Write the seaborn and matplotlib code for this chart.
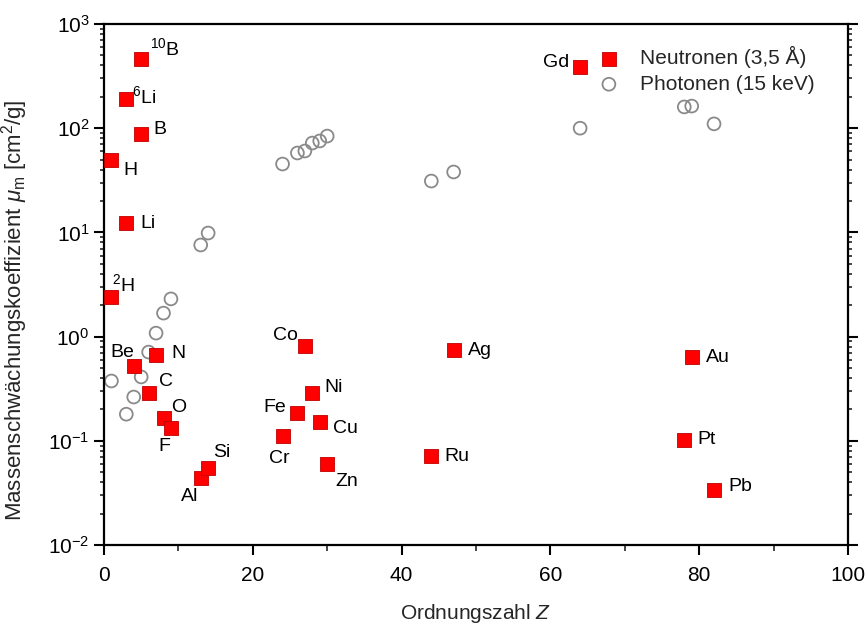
import numpy as np
import pandas as pd
import seaborn as sns
import matplotlib.pyplot as plt
import matplotlib.ticker as ticker

# Neutronen (3,5 Å)
n_label = ["$^{10}$B", "$^{6}$Li", "B", "H", "Li", "$^{2}$H", "Be", "N", "C", "O", "F",
           "Al", "Si", "Cr", "Fe", "Co", "Ni", "Cu", "Zn", "Ru", "Ag", "Gd", "Pt", "Au", "Pb"]
n_z = [5, 3, 5, 1, 3, 1, 4, 7, 6, 8, 9, 13, 14, 24, 26, 27, 28, 29, 30, 44, 47, 64, 78, 79, 82]
n_mu = [461, 190, 88, 50, 12.3, 2.4, 0.52, 0.665, 0.288, 0.166, 0.133, 0.044, 0.055,
        0.111, 0.185, 0.81, 0.288, 0.151, 0.060, 0.071, 0.74, 386, 0.102, 0.637, 0.034]

# Photonen (15 keV)
p_z = [1, 3, 4, 5, 6, 7, 8, 9, 13, 14, 24, 26, 27, 28, 29, 30, 44, 47, 64, 78, 79, 82]
p_mu = [0.375, 0.18, 0.263, 0.41, 0.71, 1.08, 1.68, 2.3, 7.57, 9.86, 45.3, 57.8, 60.4,
        72, 75.4, 84, 31.1, 38, 100, 160, 163, 110]

# label offsets in pixels and alignment
lab_off = {
    "$^{10}$B": (9, 11, "left"), "$^{6}$Li": (6, 3, "left"), "B": (12, 4, "left"),
    "H": (12, -11, "left"), "Li": (14, 0, "left"), "$^{2}$H": (1, 13, "left"),
    "Be": (1, 14, "right"), "N": (15, 2, "left"), "C": (10, 11, "left"),
    "O": (8, 10, "left"), "F": (-13, -19, "left"), "Al": (-2, -19, "right"),
    "Si": (5, 15, "left"), "Cr": (-3, -22, "center"), "Fe": (-11, 5, "right"),
    "Co": (-7, 11, "right"), "Ni": (12, 5, "left"), "Cu": (13, -6, "left"),
    "Zn": (8, -18, "left"), "Ru": (13, 0, "left"), "Ag": (14, 0, "left"),
    "Gd": (-11, 5, "right"), "Pt": (13, 0, "left"), "Au": (14, 0, "left"),
    "Pb": (14, 3, "left"),
}

sns.set_theme(style="white")
plt.rcParams["font.family"] = ["Liberation Sans", "DejaVu Sans"]
plt.rcParams["mathtext.fontset"] = "custom"
plt.rcParams["mathtext.rm"] = "Liberation Sans"
plt.rcParams["mathtext.it"] = "Liberation Sans:italic"

neu = pd.DataFrame({"Z": n_z, "mu": n_mu, "label": n_label})
pho = pd.DataFrame({"Z": p_z, "mu": p_mu})

fig = plt.figure(figsize=(8.68, 6.23), dpi=100)
ax = fig.add_axes([0.1198, 0.1252, 0.8571, 0.8363])

sns.scatterplot(data=neu, x="Z", y="mu", marker="s", s=105, color="#ff0000",
                edgecolor="#c00000", linewidth=0.6, label="Neutronen (3,5 Å)", ax=ax, zorder=3)
sns.scatterplot(data=pho, x="Z", y="mu", marker="o", s=85, facecolor="none",
                edgecolor="#8a8a8a", linewidth=1.3, label="Photonen (15 keV)", ax=ax, zorder=2)

for _, r in neu.iterrows():
    dx, dy, ha = lab_off[r["label"]]
    ax.annotate(r["label"], (r["Z"], r["mu"]), xytext=(dx, dy), textcoords="offset pixels",
                ha=ha, va="center", fontsize=14, color="black")

ax.set_yscale("log")
ax.set_xlim(0, 100)
ax.set_ylim(1e-2, 1e3)
ax.xaxis.set_major_locator(ticker.MultipleLocator(20))
ax.xaxis.set_minor_locator(ticker.MultipleLocator(10))
ax.yaxis.set_major_locator(ticker.LogLocator(base=10, numticks=10))
ax.yaxis.set_minor_locator(ticker.LogLocator(base=10, subs=np.arange(2, 10), numticks=20))
ax.yaxis.set_minor_formatter(ticker.NullFormatter())

for s in ax.spines.values():
    s.set_color("black")
    s.set_linewidth(1.6)

ax.tick_params(axis="both", which="major", direction="out", length=7, width=1.5,
               labelsize=15, colors="black", bottom=True, left=True)
ax.tick_params(axis="x", which="major", pad=8)
ax.tick_params(axis="both", which="minor", direction="out", length=4, width=1.2,
               bottom=True, left=True)
ax.tick_params(axis="y", which="both", right=True)
ax.tick_params(axis="y", which="minor", right=True, length=3)

ax.set_xlabel("Ordnungszahl $Z$", fontsize=15, labelpad=12)
ax.set_ylabel("Massenschwächungskoeffizient $\\mu_{\\rm m}$ [cm$^2$/g]", fontsize=16)
ax.yaxis.set_label_coords(-0.1, 0.45)

ax.legend(loc="upper right", bbox_to_anchor=(0.975, 0.985), frameon=False, fontsize=15,
          handletextpad=0.5, labelspacing=0.3, borderaxespad=0.3)

fig.savefig("out.png", dpi=100)
